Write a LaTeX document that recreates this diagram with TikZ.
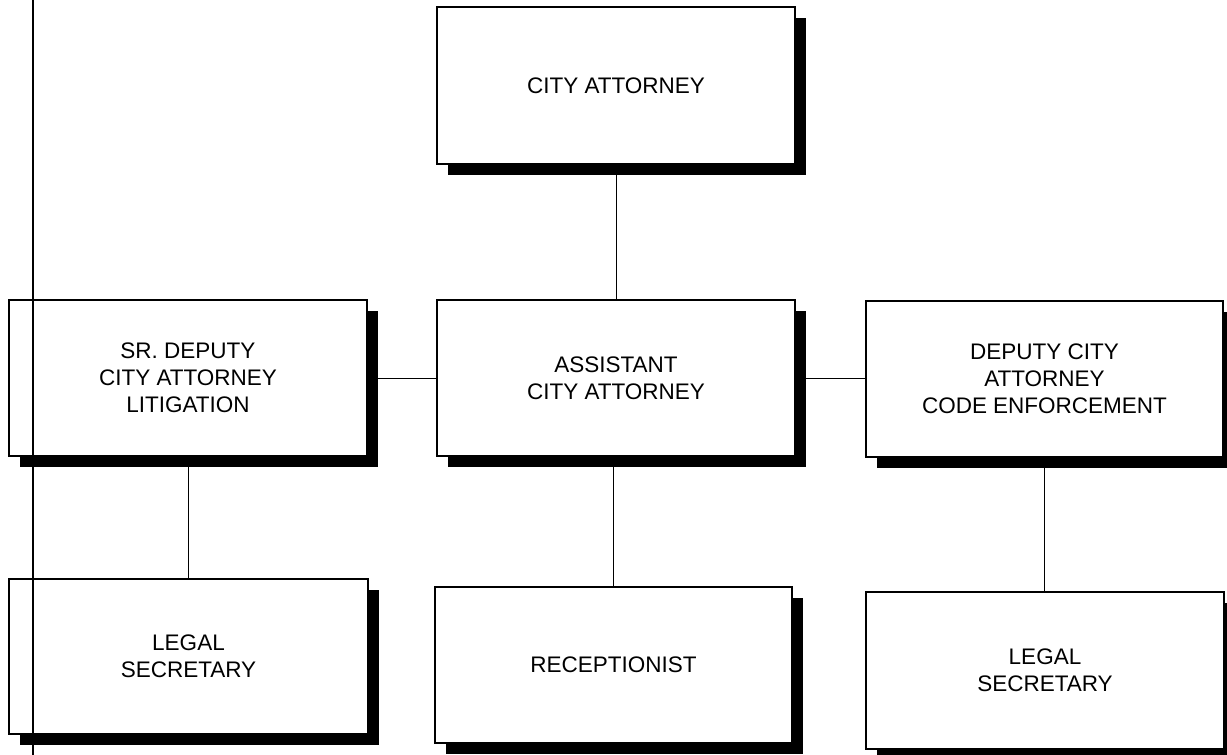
\documentclass[tikz,border=0pt]{standalone}
\usepackage{fontspec}
\setmainfont{Liberation Sans}
\usetikzlibrary{shadows}
\newcommand{\orgfont}{\fontsize{22.5}{27}\selectfont}
\begin{document}
\begin{tikzpicture}[x=1pt, y=-1pt,
  orgbox/.style={draw, line width=1.8pt, fill=white, inner sep=0pt,
    align=center, font=\orgfont,
    drop shadow={shadow xshift=11pt, shadow yshift=-11pt, fill=black, opacity=1}},
  link/.style={line width=1pt}]
\useasboundingbox (0,0) rectangle (1227,755);

% positions
\node[orgbox, minimum width=358pt, minimum height=157pt] (ca)   at (616,85.5)   {CITY ATTORNEY};
\node[orgbox, minimum width=358pt, minimum height=156pt] (sr)   at (188,378)    {SR. DEPUTY\\CITY ATTORNEY\\LITIGATION};
\node[orgbox, minimum width=358pt, minimum height=156pt] (asst) at (616,378)    {ASSISTANT\\CITY ATTORNEY};
\node[orgbox, minimum width=357pt, minimum height=156pt] (dep)  at (1044.5,379) {DEPUTY CITY\\ATTORNEY\\CODE ENFORCEMENT};
\node[orgbox, minimum width=359pt, minimum height=155pt] (ls1)  at (188.5,656.5){LEGAL\\SECRETARY};
\node[orgbox, minimum width=357pt, minimum height=156pt] (rec)  at (613.5,665)  {RECEPTIONIST};
\node[orgbox, minimum width=358pt, minimum height=157pt] (ls2)  at (1045,670.5) {LEGAL\\SECRETARY};

% reporting lines
\draw[link] (ca.south) -- (asst.north);
\draw[link] (sr.east) -- (asst.west);
\draw[link] (asst.east) -- (asst.east -| dep.west);
\draw[link] (sr.south) -- (sr.south |- ls1.north);
\draw[link] (rec.north |- asst.south) -- (rec.north);
\draw[link] (dep.south) -- (dep.south |- ls2.north);

% margin rule
\coordinate (rtop) at (33,0);
\coordinate (rbot) at (33,755);
\draw[line width=2pt] (rtop) -- (rbot);
\end{tikzpicture}
\end{document}
